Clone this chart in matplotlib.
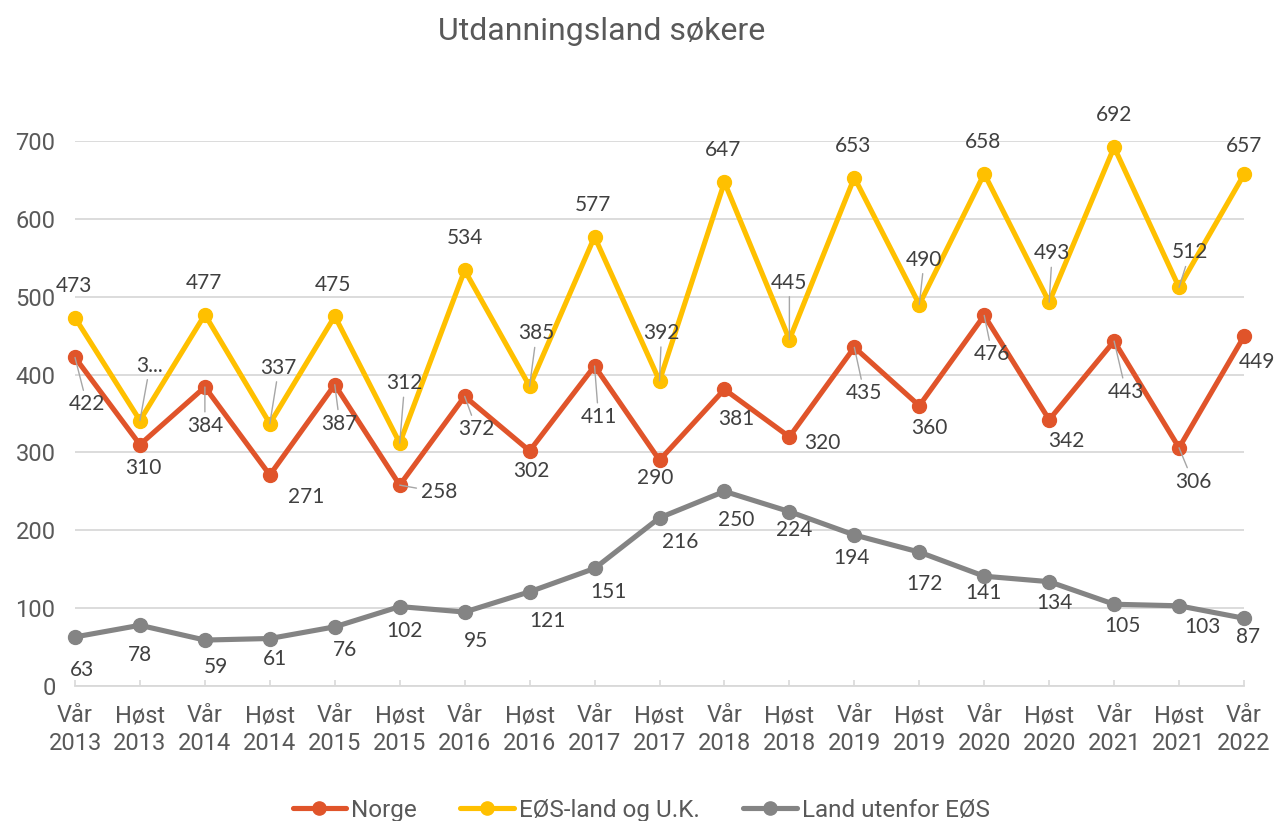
import numpy as np
import matplotlib

matplotlib.use("Agg")
import matplotlib.pyplot as plt


TITLE = "Utdanningsland søkere"
CATEGORIES = [
    "Vår\n2013", "Høst\n2013", "Vår\n2014", "Høst\n2014", "Vår\n2015", "Høst\n2015",
    "Vår\n2016", "Høst\n2016", "Vår\n2017", "Høst\n2017", "Vår\n2018", "Høst\n2018",
    "Vår\n2019", "Høst\n2019", "Vår\n2020", "Høst\n2020", "Vår\n2021", "Høst\n2021",
    "Vår\n2022",
]
norge = [422, 310, 384, 271, 387, 258, 372, 302, 411, 290, 381, 320, 435, 360, 476, 342, 443, 306, 449]
eos = [473, 341, 477, 337, 475, 312, 534, 385, 577, 392, 647, 445, 653, 490, 658, 493, 692, 512, 657]
utenfor = [63, 78, 59, 61, 76, 102, 95, 121, 151, 216, 250, 224, 194, 172, 141, 134, 105, 103, 87]
SERIES_NAMES = ["Norge", "EØS-land og U.K.", "Land utenfor EØS"]
Y_TICKS = [0, 100, 200, 300, 400, 500, 600, 700]

# label offsets in pixels (dx right, dy down) and which ones get leader lines
norge_off = [(12, 47), (3, 23), (0, 39), (36, 22), (5, 39), (39, 7), (12, 33), (2, 20), (4, 51), (-4, 18),
             (12, 30), (33, 6), (10, 46), (10, 22), (8, 39), (17, 21), (12, 51), (14, 34), (13, 26)]
norge_lead = {0, 2, 4, 5, 6, 8, 12, 14, 16, 17}
eos_off = [(-1, -32), (10, -55), (-1, -32), (9, -56), (-2, -31), (5, -60), (0, -32), (7, -53), (-2, -32), (2, -48),
           (-1, -32), (0, -57), (-1, -32), (5, -45), (-1, -32), (3, -49), (0, -32), (11, -35), (0, -28)]
eos_lead = {1, 3, 5, 7, 9, 11, 13, 15, 17}
utenfor_off = [(7, 33), (0, 30), (11, 27), (5, 20), (10, 23), (5, 24), (11, 29), (18, 29), (14, 24), (21, 24),
               (12, 29), (5, 18), (-3, 23), (5, 32), (-1, 17), (5, 21), (8, 22), (23, 21), (4, 19)]

COLORS = ["#E0542A", "#FFC000", "#848484"]
TEXT = "#595959"
LABEL = "#404040"

fig = plt.figure(figsize=(12.78, 8.21), dpi=100)
ax = fig.add_axes([75 / 1278, 1 - 686 / 821, (1244 - 75) / 1278, (686 - 141) / 821])

x = np.arange(len(CATEGORIES))
series = [norge, eos, utenfor]
offsets = [norge_off, eos_off, utenfor_off]
leaders = [norge_lead, eos_lead, set()]

for vals, color, name in zip(series, COLORS, SERIES_NAMES):
    ax.plot(x, vals, color=color, lw=3.7, marker="o", ms=10, label=name,
            solid_capstyle="round", zorder=3, clip_on=False)

for vals, offs, lead in zip(series, offsets, leaders):
    for i, v in enumerate(vals):
        dx, dy = offs[i]
        txt = str(v)
        if i == 1 and vals is eos:
            txt = "3..."
        kw = {}
        if i in lead:
            kw["arrowprops"] = dict(arrowstyle="-", color="#a6a6a6", lw=1.0, shrinkA=1, shrinkB=0)
        ax.annotate(txt, (x[i], v), xytext=(dx, -dy), textcoords="offset pixels",
                    ha="center", va="center", fontsize=15, color=LABEL,
                    family=["Lato", "DejaVu Sans"], zorder=5, annotation_clip=False, **kw)

ax.set_xlim(0, len(CATEGORIES) - 1)
ax.set_ylim(0, 700)
ax.set_yticks(Y_TICKS)
ax.set_xticks(x)
ax.set_xticklabels(CATEGORIES, family="Roboto", fontsize=17, color=TEXT, linespacing=1.3)
for lab in ax.get_yticklabels():
    lab.set_family("Roboto")
    lab.set_fontsize(17)
    lab.set_color(TEXT)
ax.tick_params(axis="y", length=0, pad=14)
ax.tick_params(axis="x", direction="in", length=4.5, color="#d9d9d9", width=1.2, pad=13)
ax.grid(True, axis="y", color="#d9d9d9", lw=1.3, zorder=0)
ax.set_axisbelow(True)
for side in ["top", "right", "left"]:
    ax.spines[side].set_visible(False)
ax.spines["bottom"].set_color("#d9d9d9")
ax.spines["bottom"].set_linewidth(1.3)

fig.text(602 / 1278, 1 - 32 / 821, TITLE, ha="center", va="center",
         family="Roboto", fontsize=23, color=TEXT)

fig.legend(loc="center", bbox_to_anchor=(641 / 1278, 1 - 810 / 821), ncol=3, frameon=False,
           prop={"family": "Roboto", "size": 17.5}, labelcolor=TEXT, handlelength=2.2,
           handletextpad=0.2, columnspacing=1.8, markerscale=0.95)

fig.savefig("out.png", dpi=100, facecolor="white")
